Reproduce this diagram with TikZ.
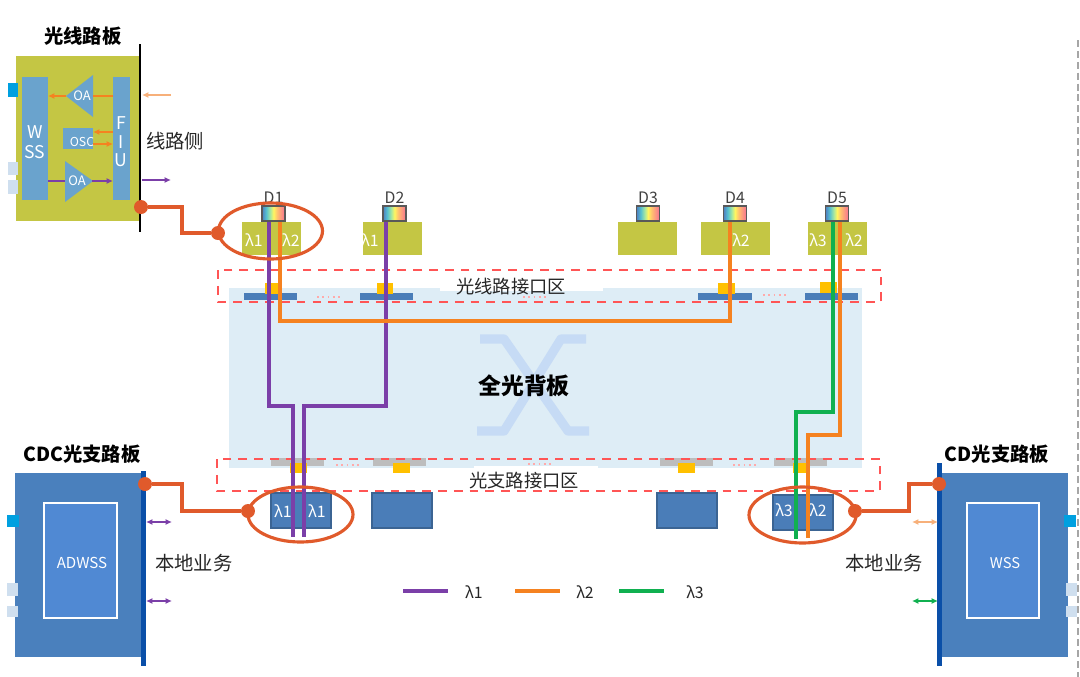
\documentclass[tikz,border=0pt]{standalone}
\usepackage{fontspec}
\usepackage{xcolor}
\setmainfont{Noto Sans CJK SC}
\usetikzlibrary{arrows.meta}
\usetikzlibrary{positioning}

\definecolor{olivecard}{HTML}{C4C644}
\definecolor{steelbox}{HTML}{6AA3CD}
\definecolor{cardblue}{HTML}{4A80BD}
\definecolor{innerblue}{HTML}{5089D3}
\definecolor{edgeblue}{HTML}{0A4FA8}
\definecolor{panelblue}{HTML}{DEEDF6}
\definecolor{crossblue}{HTML}{C6DBF5}
\definecolor{barblue}{HTML}{4A7DB8}
\definecolor{lightsq}{HTML}{CFDFEF}
\definecolor{cyansq}{HTML}{00A0E0}
\definecolor{slotyellow}{HTML}{FFC000}
\definecolor{slotgray}{HTML}{BDBDBD}
\definecolor{zonered}{HTML}{FF5555}
\definecolor{linkred}{HTML}{E05A2B}
\definecolor{lamA}{HTML}{7B3FA8}
\definecolor{lamB}{HTML}{F58220}
\definecolor{lamC}{HTML}{10B050}
\definecolor{lamBlight}{HTML}{F7B07A}
\definecolor{specA}{HTML}{4F7FC0}
\definecolor{specB}{HTML}{55C0D0}
\definecolor{specC}{HTML}{A8E8A0}
\definecolor{specD}{HTML}{FFF560}
\definecolor{specE}{HTML}{FFC070}
\definecolor{specF}{HTML}{F87090}

\pgfdeclarehorizontalshading{spectrum}{100bp}{
color(0bp)=(specA); color(25bp)=(specA); color(34bp)=(specB); color(43bp)=(specC);
color(50bp)=(specD); color(58bp)=(specE); color(75bp)=(specF); color(100bp)=(specF)}

\tikzset{
  txt/.style={inner sep=0pt, font=\fontsize{11}{13}\selectfont, text=black!85},
  zonetxt/.style={inner sep=0pt, font=\fontsize{10.4}{12}\selectfont, text=black!85},
  headtxt/.style={inner sep=0pt, font=\fontsize{11}{13}\bfseries\selectfont, text=black},
  lamtxt/.style={inner sep=0pt, font=\fontsize{9}{10}\selectfont, text=white},
  smalltxt/.style={inner sep=0pt, font=\fontsize{7.4}{8.5}\selectfont, text=white, align=center},
  spectrumbox/.style={draw=black!65, line width=0.6pt, shading=spectrum, minimum width=0.46cm, minimum height=0.3cm, inner sep=0pt},
  dot/.style={circle, fill=linkred, inner sep=0pt, minimum size=0.28cm},
  link/.style={linkred, line width=1.8pt},
  fibre/.style={line width=1.8pt},
  tiny/.style={line width=0.9pt, >={Latex[length=3.6pt,width=3.4pt]}},
  zone/.style={zonered, dash pattern=on 5pt off 4pt, line width=1pt}
}

\begin{document}
\begin{tikzpicture}[x=0.02cm, y=-0.02cm]
\useasboundingbox (0,0) rectangle (1080,677);

\draw[black!35, dash pattern=on 4pt off 2.2pt, line width=0.8pt] (1078,40) -- (1078,677);

\fill[panelblue] (229,288) rectangle (862,468);
\fill[white] (440,287) rectangle (603,291);
\fill[white] (474,466) rectangle (598,470);

\draw[crossblue, line width=5.2pt, line join=round] (480,339) -- (504,339) -- (568,431) -- (589,431);
\draw[crossblue, line width=5.2pt, line join=round] (586,339) -- (561,339) -- (504,431) -- (477,431);

\foreach \a/\b in {244/297, 360/413, 698/752, 805/858}
{
\fill[barblue] (\a,293) rectangle (\b,300);
}
\foreach \a/\b/\t in {265/282/283, 377/393/283, 718/735/283, 820/837/282}
{
\fill[slotyellow] (\a,\t) rectangle (\b,\t+11);
}
\foreach \a in {270.5, 373, 660, 773.5}
{
\fill[slotgray] (\a,458) rectangle (\a+53,466);
}
\foreach \a in {290, 393, 678, 793}
{
\fill[slotyellow] (\a,463) rectangle (\a+17,473);
}
\foreach \a/\t in {317/297, 523/297, 763/295, 336/465, 528/464, 733/465}
{
\draw[zonered!50, line width=0.7pt, dash pattern=on 1pt off 2pt] (\a,\t) -- (\a+23,\t);
}

\draw[zone] (218,270) rectangle (881,302);
\draw[zone] (217,459) rectangle (880,491);

\node[zonetxt] (linezone) at (511,287) {光线路接口区};
\node[zonetxt] (dropzone) at (524,481) {光支路接口区};
\node[inner sep=0pt, font=\fontsize{13}{15}\bfseries\selectfont] (fabric) at (524,386) {全光背板};

% line card
\fill[olivecard] (16,56) rectangle (140,221);
\fill[cyansq] (8,83) rectangle (18,97);
\fill[lightsq] (8,162) rectangle (18,175);
\fill[lightsq] (8,180) rectangle (18,194);
\fill[steelbox] (22,77) rectangle (48,200);
\fill[steelbox] (113,77) rectangle (130,200);
\fill[steelbox] (66,96) -- (93,75) -- (93,117) -- cycle;
\fill[steelbox] (63,128) rectangle (93,149);
\fill[steelbox] (65,161) -- (93,181) -- (65,202) -- cycle;
\draw[black, line width=1.6pt] (140,44) -- (140,232);

\node[smalltxt, font=\fontsize{10}{11.5}\selectfont] (wss) at (35,142) {W\\SS};
\node[smalltxt, font=\fontsize{10}{10.5}\selectfont] (fiu) at (121,142) {F\\I\\U};
\node[smalltxt] (oaup) at (82,96) {OA};
\node[smalltxt, font=\fontsize{7}{8}\selectfont] (osc) at (82,142) {OSC};
\node[smalltxt] (oadown) at (77,181) {OA};

\draw[tiny, lamB] (113,96) -- (93,96);
\draw[tiny, lamB, ->] (66,96) -- (48,96);
\draw[tiny, lamB, ->] (113,132) -- (93,132);
\draw[tiny, lamB, ->] (93,144) -- (113,144);
\draw[tiny, lamA] (48,181) -- (65,181);
\draw[tiny, lamA, ->] (92,181) -- (113,181);
\draw[tiny, lamBlight, ->] (171,95) -- (142,95);
\draw[tiny, lamA, ->] (142,180) -- (171,180);

\node[headtxt] (linecard) at (83,36) {光线路板};
\node[txt] (lineside) at (175,141) {线路侧};

% degree ports
\foreach \n/\x/\a/\b in {1/273.5/242/301, 2/394.5/363/422, 3/648/618/677, 4/735/701/770, 5/837/808/867}
{
\fill[olivecard] (\a,222) rectangle (\b,255);
\node[spectrumbox] (port\n) at (\x,213.5) {};
\node[inner sep=0pt, font=\fontsize{9}{10}\selectfont, text=black!75] (D\n) at (\x,198) {D\n};
}
\foreach \x/\l [count=\i] in {254/1, 291/2, 370/1, 741/2, 818/3, 854/2}
{
\node[lamtxt] (lamup\i) at (\x,240) {λ\l};
}

% CDC card
\fill[cardblue] (15,473) rectangle (142,657);
\fill[cyansq] (7,515) rectangle (19,527);
\fill[lightsq] (7,583) rectangle (18,596);
\fill[lightsq] (7,606) rectangle (18,617);
\fill[edgeblue] (141,471) rectangle (146,666);
\draw[white, fill=innerblue, line width=0.9pt] (44,503) rectangle (117,618);
\node[smalltxt, font=\fontsize{8.6}{10}\selectfont] (adwss) at (82,563) {ADWSS};
\node[headtxt] (cdccard) at (82,454) {CDC光支路板};
\node[txt] (localL) at (194,563) {本地业务};
\draw[tiny, lamA, <->] (146,522) -- (172,522);
\draw[tiny, lamA, <->] (146,601) -- (172,601);

% CD card
\fill[cardblue] (942,473) rectangle (1068,657);
\fill[cyansq] (1064,515) rectangle (1076,527);
\fill[lightsq] (1066,583) rectangle (1077,596);
\fill[lightsq] (1066,606) rectangle (1077,617);
\fill[edgeblue] (937,463) rectangle (942,666);
\draw[white, fill=innerblue, line width=0.9pt] (967,503) rectangle (1039,618);
\node[smalltxt, font=\fontsize{8.4}{10}\selectfont] (wssR) at (1005,563) {WSS};
\node[headtxt] (cdcard) at (997,454) {CD光支路板};
\node[txt] (localR) at (884,563) {本地业务};
\draw[tiny, lamBlight, <->] (912,522) -- (938,522);
\draw[tiny, lamC, <->] (912,601) -- (938,601);

% drop boxes
\foreach \a/\t in {271/493, 372/493, 657/493, 773/495}
{
\draw[barblue!80!black, fill=barblue, line width=0.7pt] (\a,\t) rectangle (\a+60,\t+35);
}
\foreach \x/\y/\l [count=\i] in {283/511/1, 317/511/1, 784/510/3, 818/510/2}
{
\node[lamtxt] (lamdown\i) at (\x,\y) {λ\l};
}

% fibres
\coordinate (endA) at (293,537);
\coordinate (endB) at (304,537);
\coordinate (endC) at (796,539);
\coordinate (endD) at (808,538);
\draw[fibre, lamA] (port1.south -| 269,0) -- (269,406) -- (293,406) -- (endA);
\draw[fibre, lamA] (port2.south -| 386,0) -- (386,406) -- (304,406) -- (endB);
\draw[fibre, lamB] (port1.south -| 280,0) -- (280,321) -- (730,321) -- (port4.south -| 730,0);
\draw[fibre, lamC] (port5.south -| 833,0) -- (833,412) -- (796,412) -- (endC);
\draw[fibre, lamB] (port5.south -| 840,0) -- (840,435) -- (808,435) -- (endD);

% links
\node[dot] (cardA) at (141,207) {};
\node[dot] (eyeA) at (218,233) {};
\node[dot] (cardB) at (145,484) {};
\node[dot] (eyeB) at (248,511) {};
\node[dot] (eyeC) at (855,511) {};
\node[dot] (cardC) at (939,484) {};
\draw[link] (270.5,231) ellipse (52 and 28);
\draw[link] (300.5,514.5) ellipse (52.5 and 27.5);
\draw[link] (802.5,515) ellipse (53.5 and 28);
\draw[link] (cardA) -- (182,207) -- (182,233) -- (eyeA);
\draw[link] (cardB) -- (182,484) -- (182,511) -- (eyeB);
\draw[link] (eyeC) -- (909,511) -- (909,484) -- (cardC);

% legend
\foreach \a/\c/\x/\l in {403/lamA/474/1, 515/lamB/585/2, 619/lamC/695/3}
{
\coordinate (keyL\l) at (\a,591);
\coordinate (keyR\l) at (\a+45,591);
\draw[\c, line width=1.8pt] (keyL\l) -- (keyR\l);
\node[inner sep=0pt, font=\fontsize{9}{10}\selectfont, text=black!85] (key\l) at (\x,592) {λ\l};
}
\end{tikzpicture}
\end{document}
